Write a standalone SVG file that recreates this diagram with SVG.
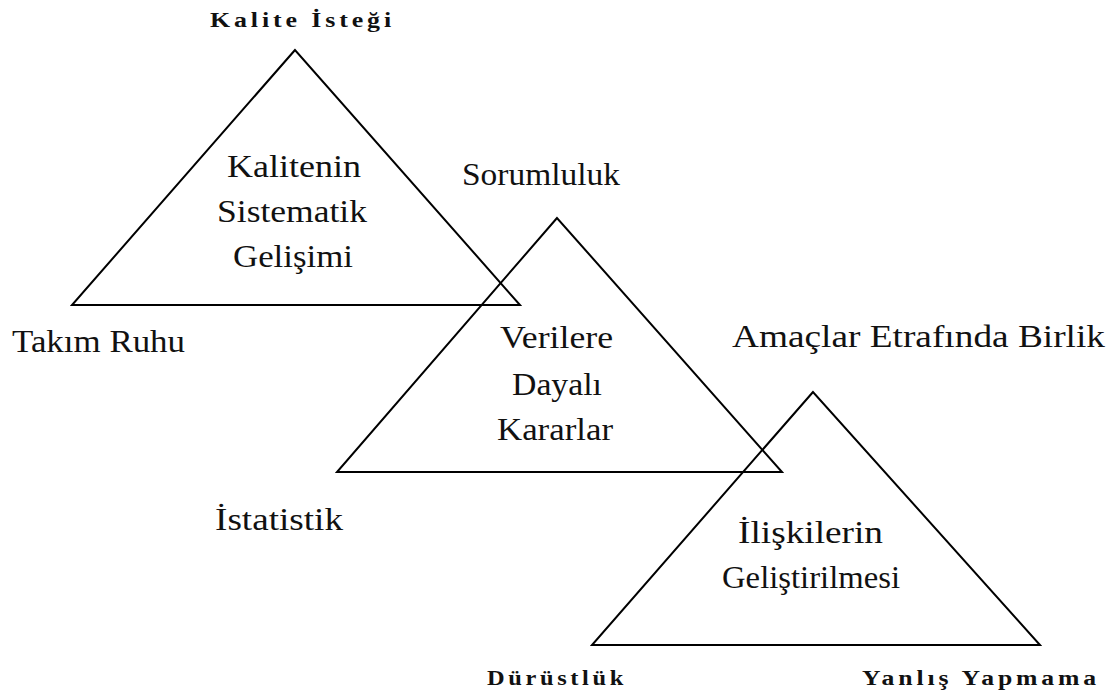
<svg xmlns="http://www.w3.org/2000/svg" width="1118" height="700" viewBox="0 0 1118 700">
<style>
.tri{fill:none;stroke:#000;stroke-width:2;stroke-linejoin:miter}
.t{font-family:"Liberation Serif","Times New Roman",serif;font-size:32px;fill:#111}
.b{font-family:"Liberation Serif","Times New Roman",serif;font-size:20px;font-weight:bold;letter-spacing:3px;fill:#111}
</style>
<rect width="1118" height="700" fill="#fff"/>
<g id="triangle-quality">
<polygon class="tri" points="295,50 72,305 520,305"/>
<text class="t" x="227" y="177" textLength="134" lengthAdjust="spacingAndGlyphs">Kalitenin</text>
<text class="t" x="217" y="222" textLength="150" lengthAdjust="spacingAndGlyphs">Sistematik</text>
<text class="t" x="233" y="267" textLength="120" lengthAdjust="spacingAndGlyphs">Gelişimi</text>
</g>
<g id="triangle-data">
<polygon class="tri" points="557,218 337,472 782,472"/>
<text class="t" x="500" y="348" textLength="113" lengthAdjust="spacingAndGlyphs">Verilere</text>
<text class="t" x="512" y="395" textLength="90" lengthAdjust="spacingAndGlyphs">Dayalı</text>
<text class="t" x="497" y="440" textLength="116" lengthAdjust="spacingAndGlyphs">Kararlar</text>
</g>
<g id="triangle-relations">
<polygon class="tri" points="813,392 592,645 1040,645"/>
<text class="t" x="738" y="543" textLength="145" lengthAdjust="spacingAndGlyphs">İlişkilerin</text>
<text class="t" x="722" y="588" textLength="178" lengthAdjust="spacingAndGlyphs">Geliştirilmesi</text>
</g>
<g id="label-kalite-istegi"><text class="b" x="210" y="27" textLength="185" lengthAdjust="spacingAndGlyphs">Kalite İsteği</text></g>
<g id="label-takim-ruhu"><text class="t" x="12" y="352" textLength="173" lengthAdjust="spacingAndGlyphs">Takım Ruhu</text></g>
<g id="label-sorumluluk"><text class="t" x="462" y="185" textLength="158" lengthAdjust="spacingAndGlyphs">Sorumluluk</text></g>
<g id="label-istatistik"><text class="t" x="215" y="530" textLength="128" lengthAdjust="spacingAndGlyphs">İstatistik</text></g>
<g id="label-amaclar"><text class="t" x="732" y="347" textLength="373" lengthAdjust="spacingAndGlyphs">Amaçlar Etrafında Birlik</text></g>
<g id="label-durustluk"><text class="b" x="487" y="685" textLength="140" lengthAdjust="spacingAndGlyphs">Dürüstlük</text></g>
<g id="label-yanlis-yapmama"><text class="b" x="862" y="685" textLength="238" lengthAdjust="spacingAndGlyphs">Yanlış Yapmama</text></g>
</svg>
